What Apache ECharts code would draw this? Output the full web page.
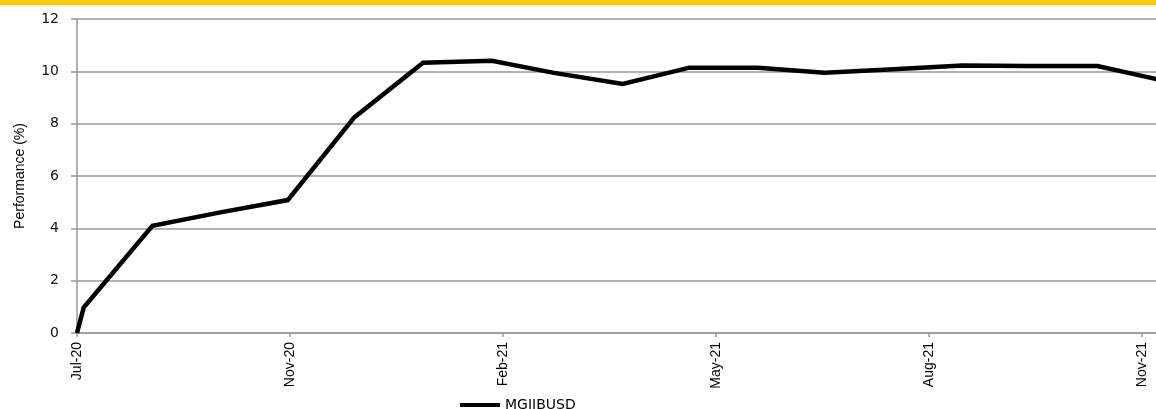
<!DOCTYPE html>
<html>
<head>
<meta charset="utf-8">
<script src="https://cdn.jsdelivr.net/npm/echarts@6/dist/echarts.min.js"></script>
<style>
  html, body { margin: 0; padding: 0; background: #fff; }
  #chart { width: 1156px; height: 409px; }
</style>
</head>
<body>
<div id="chart"></div>
<script>
// month-end performance points, first one is the inception date
const startDate = '2020-07-28';
const dates = [
    '2020-07-28', '2020-07-31', '2020-08-31', '2020-09-30', '2020-10-31',
    '2020-11-30', '2020-12-31', '2021-01-31', '2021-02-28', '2021-03-31',
    '2021-04-30', '2021-05-31', '2021-06-30', '2021-07-31', '2021-08-31',
    '2021-09-30', '2021-10-31', '2021-11-30'
];
const perf = [
    0, 0.97, 4.1, 4.6, 5.08,
    8.24, 10.33, 10.4, 9.94, 9.52,
    10.14, 10.14, 9.95, 10.08, 10.22,
    10.2, 10.2, 9.64
];
const seriesName = 'MGIIBUSD';
const yTitle = 'Performance (%)';
const monthNames = ['Jan', 'Feb', 'Mar', 'Apr', 'May', 'Jun', 'Jul', 'Aug', 'Sep', 'Oct', 'Nov', 'Dec'];

const DAY = 86400000;
const t0 = Date.parse(startDate);
const dayOf = (d) => Math.round((Date.parse(d) - t0) / DAY);
const points = dates.map((d, i) => [dayOf(d), perf[i]]);

const fmtDay = (v) => {
    let d = new Date(t0 + v * DAY);
    return monthNames[d.getUTCMonth()] + '-' + String(d.getUTCFullYear()).slice(2);
};

let myChart = echarts.init(document.getElementById('chart'));
myChart.setOption({
    animation: false,
    graphic: [{
        type: 'rect',
        left: 0,
        top: 0,
        shape: { width: 1156, height: 5 },
        style: { fill: '#FFCC00' }
    }],
    grid: {
        left: 77,
        top: 19,
        width: 1087,
        height: 314,
        outerBoundsMode: 'none'
    },
    legend: {
        left: 455,
        top: 393,
        icon: 'rect',
        itemWidth: 40,
        itemHeight: 4,
        itemGap: 4,
        data: [seriesName],
        textStyle: {
            fontFamily: 'DejaVu Sans',
            fontSize: 14,
            color: '#000'
        }
    },
    xAxis: {
        type: 'value',
        min: 0,
        max: dayOf('2021-11-30'),
        interval: 96,
        axisLine: { lineStyle: { color: '#999', width: 1.5 } },
        axisTick: { length: 4, lineStyle: { color: '#999', width: 1.5 } },
        splitLine: { show: false },
        axisLabel: {
            rotate: 90,
            margin: 9,
            showMaxLabel: false,
            fontFamily: 'Liberation Sans Narrow, Arial Narrow, sans-serif',
            fontSize: 14,
            color: '#000',
            formatter: fmtDay
        }
    },
    yAxis: {
        type: 'value',
        min: 0,
        max: 12,
        interval: 2,
        name: yTitle,
        nameLocation: 'middle',
        nameGap: 50,
        nameTextStyle: {
            fontFamily: 'Liberation Sans Narrow, Arial Narrow, sans-serif',
            fontSize: 14,
            color: '#000'
        },
        axisLine: { show: true, lineStyle: { color: '#999', width: 1.5 } },
        axisTick: { show: true, length: 6, lineStyle: { color: '#999', width: 1.5 } },
        splitLine: { lineStyle: { color: '#999', width: 1.5 } },
        axisLabel: {
            margin: 18,
            fontFamily: 'DejaVu Sans',
            fontSize: 14,
            color: '#111'
        }
    },
    series: [{
        name: seriesName,
        type: 'line',
        data: points,
        showSymbol: false,
        symbol: 'none',
        lineStyle: { color: '#000', width: 4.5, join: 'miter' },
        itemStyle: { color: '#000' }
    }]
});
</script>
</body>
</html>
